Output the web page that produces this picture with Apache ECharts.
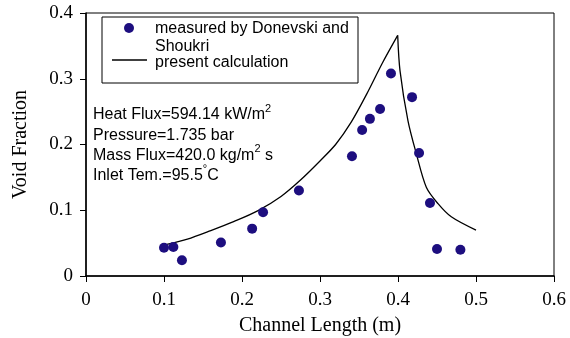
<!DOCTYPE html>
<html>
<head>
<meta charset="utf-8">
<script src="https://cdn.jsdelivr.net/npm/echarts@6/dist/echarts.min.js"></script>
<style>
  html, body { margin: 0; padding: 0; background: #fff; }
  #chart { width: 570px; height: 338px; }
</style>
</head>
<body>
<div id="chart"></div>
<script>
// measured points (Donevski and Shoukri)
const measuredX = [0.100, 0.112, 0.123, 0.173, 0.213, 0.227, 0.273, 0.341, 0.354, 0.364, 0.377, 0.391, 0.418, 0.427, 0.441, 0.450, 0.480]
const measuredY = [0.043, 0.044, 0.024, 0.051, 0.072, 0.097, 0.130, 0.182, 0.222, 0.239, 0.254, 0.308, 0.272, 0.187, 0.111, 0.041, 0.040]

// present calculation curve, peak at index 12
const calcX = [0.1035, 0.13, 0.16, 0.19, 0.22, 0.25, 0.275, 0.30, 0.32, 0.34, 0.36, 0.38, 0.3996, 0.4026, 0.4128, 0.4235, 0.4363, 0.4513, 0.4683, 0.50]
const calcY = [0.048, 0.056, 0.069, 0.083, 0.099, 0.121, 0.146, 0.175, 0.200, 0.234, 0.277, 0.324, 0.366, 0.312, 0.236, 0.186, 0.135, 0.110, 0.090, 0.0697]
const peakIdx = 12

const seriesNames = ['measured by Donevski and Shoukri', 'present calculation']
const notes = [
  'Heat Flux=594.14 kW/m{sup|2}',
  'Pressure=1.735 bar',
  'Mass Flux=420.0 kg/m{sup|2} s',
  'Inlet Tem.=95.5{sup|°}C'
]

const dotColor = '#1d0e7f'
const sans = 'Liberation Sans, Arial, sans-serif'
const serif = 'Liberation Serif, Times New Roman, serif'

const chart = echarts.init(document.getElementById('chart'))

const calcPts = calcX.map((x, i) => [x, calcY[i]])

const noteItems = notes.map((t, i) => ({
  type: 'text',
  left: 93,
  top: 103 + i * 20.3,
  style: {
    text: t,
    font: '16px ' + sans,
    lineHeight: 24,
    fill: '#000',
    rich: {
      sup: { fontSize: 11, fontFamily: sans, verticalAlign: 'top', lineHeight: 11 }
    }
  }
}))

const calcLine = {
  type: 'line',
  showSymbol: false,
  smooth: 0.3,
  lineStyle: { color: '#000', width: 1.3 },
  z: 2
}

const option = {
  animation: false,
  grid: {
    left: 86,
    right: 16,
    top: 13,
    bottom: 62,
    outerBoundsMode: 'none',
    show: true,
    borderColor: '#000',
    borderWidth: 1
  },
  xAxis: {
    type: 'value',
    min: 0,
    max: 0.6,
    interval: 0.1,
    name: 'Channel Length (m)',
    nameLocation: 'middle',
    nameGap: 40,
    nameTextStyle: { fontFamily: serif, fontSize: 20, color: '#000' },
    axisLine: { show: true, lineStyle: { color: '#000', width: 1.5 } },
    axisTick: { show: true, length: 6, lineStyle: { color: '#000' } },
    axisLabel: { fontFamily: serif, fontSize: 19, color: '#000', margin: 15 },
    splitLine: { show: false }
  },
  yAxis: {
    type: 'value',
    min: 0,
    max: 0.4,
    interval: 0.1,
    name: 'Void Fraction',
    nameLocation: 'middle',
    nameGap: 55,
    nameTextStyle: { fontFamily: serif, fontSize: 20, color: '#000' },
    axisLine: { show: true, lineStyle: { color: '#000', width: 1.5 } },
    axisTick: { show: true, length: 6, lineStyle: { color: '#000' } },
    axisLabel: { fontFamily: serif, fontSize: 19, color: '#000', margin: 13 },
    splitLine: { show: false }
  },
  series: [
    Object.assign({ name: seriesNames[1], data: calcPts.slice(0, peakIdx + 1) }, calcLine),
    Object.assign({ name: seriesNames[1] + ' ', data: calcPts.slice(peakIdx) }, calcLine),
    {
      name: seriesNames[0],
      type: 'scatter',
      data: measuredX.map((x, i) => [x, measuredY[i]]),
      symbol: 'circle',
      symbolSize: 10,
      itemStyle: { color: dotColor, opacity: 1 },
      z: 3
    }
  ],
  graphic: [
    {
      type: 'rect',
      shape: { x: 102, y: 17, width: 256, height: 66 },
      style: { fill: '#fff', stroke: '#000', lineWidth: 1 },
      z: 10
    },
    {
      type: 'circle',
      shape: { cx: 129, cy: 28, r: 5 },
      style: { fill: dotColor },
      z: 11
    },
    {
      type: 'line',
      shape: { x1: 112, y1: 60, x2: 147, y2: 60 },
      style: { stroke: '#000', lineWidth: 1.3 },
      z: 11
    },
    {
      type: 'text',
      left: 155,
      top: 21,
      style: { text: 'measured by Donevski and', font: '16px ' + sans, fill: '#000' },
      z: 11
    },
    {
      type: 'text',
      left: 155,
      top: 39,
      style: { text: 'Shoukri', font: '16px ' + sans, fill: '#000' },
      z: 11
    },
    {
      type: 'text',
      left: 155,
      top: 55,
      style: { text: 'present calculation', font: '16px ' + sans, fill: '#000' },
      z: 11
    }
  ].concat(noteItems)
}

chart.setOption(option)
</script>
</body>
</html>
